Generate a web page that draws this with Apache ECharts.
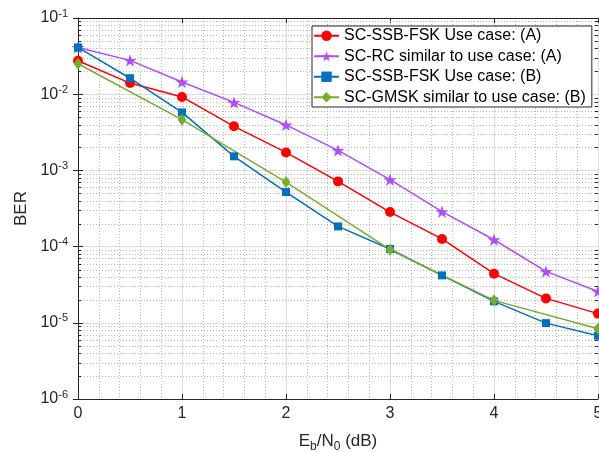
<!DOCTYPE html>
<html>
<head>
<meta charset="utf-8">
<script src="https://cdn.jsdelivr.net/npm/echarts@6/dist/echarts.min.js"></script>
<style>html,body{margin:0;padding:0;background:#fff;}#c{width:599px;height:452px;}</style>
</head>
<body>
<div id="c"></div>
<script>
// ---- data ----
const ebnoHalf = [0, 0.5, 1, 1.5, 2, 2.5, 3, 3.5, 4, 4.5, 5];
const ebnoInt = [0, 1, 2, 3, 4, 5];
const berSsbFskA = [0.0275, 0.0140, 0.0092, 0.00379, 0.00172, 7.17e-4, 2.84e-4, 1.26e-4, 4.41e-5, 2.09e-5, 1.32e-5];
const berRcA = [0.0411, 0.0278, 0.01445, 0.0078, 0.00395, 0.00183, 7.55e-4, 2.87e-4, 1.23e-4, 4.73e-5, 2.58e-5];
const berSsbFskB = [0.0411, 0.0162, 0.00577, 0.00153, 5.2e-4, 1.84e-4, 9.3e-5, 4.19e-5, 1.91e-5, 9.9e-6, 6.77e-6];
const berGmskB = [0.0251, 0.00463, 7.03e-4, 9.1e-5, 1.97e-5, 8.36e-6];
const seriesNames = ['SC-SSB-FSK Use case: (A)', 'SC-RC similar to use case: (A)', 'SC-SSB-FSK Use case: (B)', 'SC-GMSK similar to use case: (B)'];
const yMin = 1e-6, yMax = 1e-1;
const xMin = 0, xMax = 5;

// minor log grid values (2..9 x 10^k)
const minorVals = [];
for (let e = -6; e <= -2; e++) for (let m = 2; m <= 9; m++) minorVals.push(m * Math.pow(10, e));

const FONT = 'Liberation Sans, Arial, Helvetica, sans-serif';
const TXT = '#262626';
const GRIDMINOR = '#b4b4b4';
const starPath = 'path://M100,0 L122.45,69.1 L195.1,69.1 L136.3,111.8 L158.8,180.9 L100,138.2 L41.2,180.9 L63.7,111.8 L4.9,69.1 L77.55,69.1 Z';

const zip = (xs, ys) => xs.map((x, i) => [x, ys[i]]);

const chart = echarts.init(document.getElementById('c'), null, {renderer: 'canvas'});

const xCommon = {
  type: 'value', min: xMin, max: xMax, interval: 1,
  axisLine: {show: true, onZero: false, lineStyle: {color: TXT, width: 1}},
  axisTick: {show: true, inside: true, length: 5, lineStyle: {color: TXT}},
  splitLine: {show: false},
  minorTick: {show: false}
};
const yCommon = {
  type: 'log', logBase: 10, min: yMin, max: yMax,
  axisLine: {show: true, lineStyle: {color: TXT, width: 1}},
  axisTick: {show: true, inside: true, length: 5, lineStyle: {color: TXT}},
  splitLine: {show: false}
};

function minorGridItem(params, api) {
  const v = api.value(1);
  const a = api.coord([xMin, v]);
  const b = api.coord([xMax, v]);
  const y = Math.round(a[1]) + 0.5;
  return {
    type: 'line',
    shape: {x1: a[0], y1: y, x2: b[0], y2: y},
    style: {stroke: GRIDMINOR, lineWidth: 1, lineDash: [1, 2]},
    silent: true
  };
}
function minorTickItem(params, api) {
  const v = api.value(1);
  const a = api.coord([xMin, v]);
  const b = api.coord([xMax, v]);
  const y = Math.round(a[1]) + 0.5;
  return {
    type: 'group',
    children: [
      {type: 'line', shape: {x1: a[0], y1: y, x2: a[0] + 3, y2: y}, style: {stroke: TXT, lineWidth: 1}},
      {type: 'line', shape: {x1: b[0] - 3, y1: y, x2: b[0], y2: y}, style: {stroke: TXT, lineWidth: 1}}
    ],
    silent: true
  };
}

const option = {
  backgroundColor: '#fff',
  animation: false,
  textStyle: {fontFamily: FONT},
  grid: {left: 78, right: 1, top: 18, bottom: 53, containLabel: false, outerBoundsMode: 'none'},
  legend: {
    data: seriesNames,
    orient: 'vertical',
    left: 312, top: 26,
    width: 280,
    backgroundColor: '#fff',
    borderColor: TXT, borderWidth: 1,
    padding: [1, 6, 1, 1],
    itemGap: 3,
    itemWidth: 25, itemHeight: 13,
    textStyle: {fontFamily: FONT, fontSize: 16, color: '#000', lineHeight: 17.5},
    z: 10
  },
  xAxis: [
    Object.assign({}, xCommon, {
      position: 'bottom',
      axisLabel: {show: true, color: TXT, fontSize: 16, fontFamily: FONT, margin: 7},
      splitLine: {show: true, lineStyle: {color: '#dcdcdc', width: 1}},
      minorTick: {show: false, splitNumber: 5},
      minorSplitLine: {show: true, lineStyle: {color: GRIDMINOR, width: 1, type: [1, 2]}},
      name: '{n|E}{sub|b}{n|/N}{sub|0}{n| (dB)}',
      nameLocation: 'middle',
      nameGap: 30,
      nameTextStyle: {
        color: TXT, fontFamily: FONT,
        rich: {
          n: {fontSize: 17, color: TXT, fontFamily: FONT},
          sub: {fontSize: 12, color: TXT, fontFamily: FONT, verticalAlign: 'top', padding: [12, 0, 0, 0]}
        }
      }
    }),
    Object.assign({}, xCommon, {position: 'top', axisLabel: {show: false}})
  ],
  yAxis: [
    Object.assign({}, yCommon, {
      position: 'left',
      splitLine: {show: true, lineStyle: {color: '#dcdcdc', width: 1}},
      axisLabel: {
        show: true, margin: 10,
        formatter: function (v) {
          const e = Math.round(Math.log10(v));
          return '{b|10}{s|' + e + '}';
        },
        rich: {
          b: {fontSize: 16, color: TXT, fontFamily: FONT},
          s: {fontSize: 11, color: TXT, fontFamily: FONT, verticalAlign: 'bottom', padding: [0, 0, 9, 0]}
        }
      },
      name: 'BER',
      nameLocation: 'middle',
      nameGap: 43,
      nameTextStyle: {color: TXT, fontSize: 17, fontFamily: FONT}
    }),
    Object.assign({}, yCommon, {position: 'right', axisLabel: {show: false}})
  ],
  series: [
    {
      name: 'minorgrid', type: 'custom', z: 1, silent: true, clip: true,
      renderItem: minorGridItem,
      data: minorVals.map(v => [xMin, v])
    },
    {
      name: 'minorticks', type: 'custom', z: 3, silent: true,
      renderItem: minorTickItem,
      data: minorVals.map(v => [xMin, v])
    },
    {
      name: seriesNames[0], type: 'line', data: zip(ebnoHalf, berSsbFskA), z: 5,
      symbol: 'circle', symbolSize: 10,
      lineStyle: {color: '#ff0000', width: 1.5},
      itemStyle: {color: '#ff0000'}
    },
    {
      name: seriesNames[1], type: 'line', data: zip(ebnoHalf, berRcA), z: 5,
      symbol: starPath, symbolSize: 13, symbolKeepAspect: true,
      lineStyle: {color: '#b14cf6', width: 1.5},
      itemStyle: {color: '#b14cf6'}
    },
    {
      name: seriesNames[2], type: 'line', data: zip(ebnoHalf, berSsbFskB), z: 5,
      symbol: 'rect', symbolSize: 8,
      lineStyle: {color: '#0072bd', width: 1.5},
      itemStyle: {color: '#0072bd'}
    },
    {
      name: seriesNames[3], type: 'line', data: zip(ebnoInt, berGmskB), z: 5,
      symbol: 'diamond', symbolSize: [9, 12],
      lineStyle: {color: '#77ac30', width: 1.5},
      itemStyle: {color: '#77ac30'}
    }
  ]
};
chart.setOption(option);
</script>
</body>
</html>
